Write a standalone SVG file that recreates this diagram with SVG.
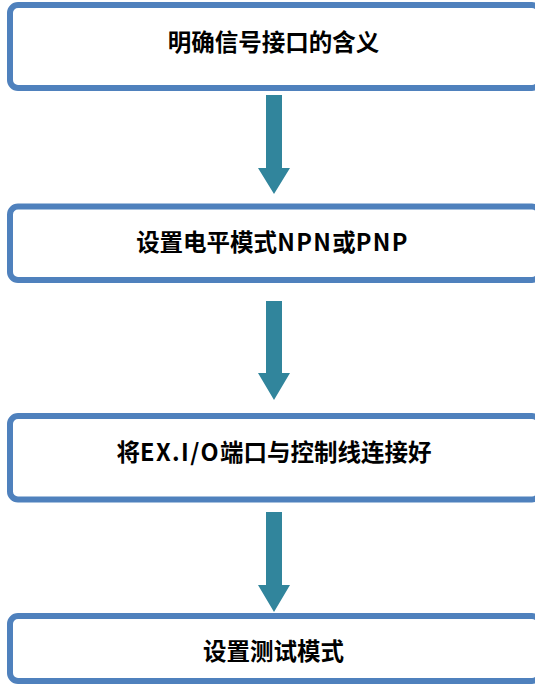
<svg xmlns="http://www.w3.org/2000/svg" width="535" height="685" viewBox="0 0 535 685">
<style>
.box{fill:#ffffff;stroke:#4f81bd;stroke-width:6}
.lbl{font-family:"Noto Sans CJK SC","Microsoft YaHei",sans-serif;font-weight:bold;font-size:23.5px;fill:#000;text-anchor:middle}
.lat{letter-spacing:1.4px}
.arr{fill:#31859c}
</style>
<rect width="535" height="685" fill="#ffffff"/>
<g id="node1"><rect class="box" x="10" y="5" width="530" height="83" rx="8"/><text class="lbl" x="273.5" y="51">明确信号接口的含义</text></g>
<g id="node2"><rect class="box" x="10" y="206.5" width="530" height="73.5" rx="8"/><text class="lbl" x="272.5" y="251">设置电平模式<tspan class="lat">NPN</tspan>或<tspan class="lat">PNP</tspan></text></g>
<g id="node3"><rect class="box" x="10" y="416" width="530" height="83.5" rx="8"/><text class="lbl" x="274" y="461">将<tspan class="lat">EX.I/O</tspan>端口与控制线连接好</text></g>
<g id="node4"><rect class="box" x="10" y="616" width="530" height="65" rx="8"/><text class="lbl" x="273.5" y="660">设置测试模式</text></g>
<g id="connectors">
<polygon class="arr" points="266,95 282,95 282,168 290,168 274,194 258,168 266,168"/>
<polygon class="arr" points="266,301 282,301 282,373 290,373 274,400 258,373 266,373"/>
<polygon class="arr" points="266,512 282,512 282,585 290,585 274,612 258,585 266,585"/>
</g>
</svg>
